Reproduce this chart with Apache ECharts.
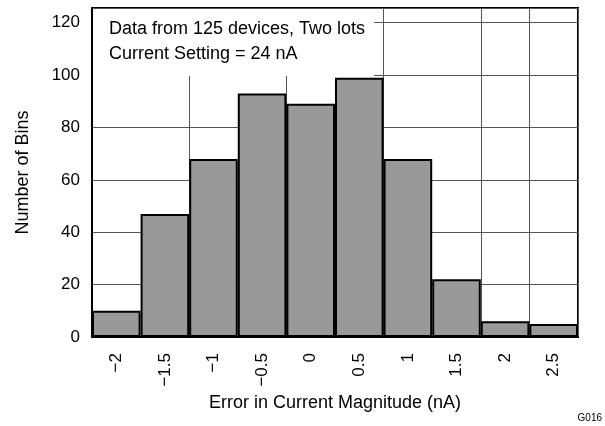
<!DOCTYPE html>
<html>
<head>
<meta charset="utf-8">
<script src="https://cdn.jsdelivr.net/npm/echarts@6/dist/echarts.min.js"></script>
<style>html,body{margin:0;padding:0;background:#fff}#c{width:605px;height:426px}</style>
</head>
<body>
<div id="c"></div>
<script>
const categories = ['\u22122', '\u22121.5', '\u22121', '\u22120.5', '0', '0.5', '1', '1.5', '2', '2.5'];
const counts = [10, 47, 68, 93, 89, 99, 68, 22, 6, 5];
const yTicks = [0, 20, 40, 60, 80, 100, 120];
const noteLines = ['Data from 125 devices, Two lots', 'Current Setting = 24 nA'];
const xTitle = 'Error in Current Magnitude (nA)';
const yTitle = 'Number of Bins';
const figId = 'G016';

const FONT = '"Liberation Sans", Arial, Helvetica, sans-serif';
const chart = echarts.init(document.getElementById('c'), null, {renderer: 'canvas'});
chart.setOption({
  animation: false,
  backgroundColor: '#fff',
  textStyle: {fontFamily: FONT},
  title: [
    {
      text: noteLines.join('\n'),
      left: 93, top: 9,
      padding: [8, 9, 10, 16],
      backgroundColor: '#fff',
      z: 10,
      textStyle: {fontFamily: FONT, fontSize: 18, fontWeight: 'normal', color: '#000', lineHeight: 24.5}
    },
    {
      text: figId,
      right: 3, bottom: 3, padding: 0,
      textStyle: {fontFamily: FONT, fontSize: 10, fontWeight: 'normal', color: '#000'}
    }
  ],
  grid: {left: 92, right: 27, top: 8, bottom: 89, show: true, borderColor: '#000', borderWidth: 2, containLabel: false},
  xAxis: {
    type: 'category',
    data: categories,
    boundaryGap: true,
    name: xTitle,
    nameLocation: 'middle',
    nameGap: 53,
    nameTextStyle: {fontFamily: FONT, fontSize: 18, color: '#000'},
    axisLine: {show: true, lineStyle: {color: '#000', width: 2}},
    axisTick: {show: false},
    axisLabel: {rotate: 90, margin: 16, fontFamily: FONT, fontSize: 17, color: '#000', interval: 0},
    splitLine: {show: true, interval: 1, lineStyle: {color: '#555', width: 1}}
  },
  yAxis: {
    type: 'value',
    min: 0, max: 125.6, interval: 20,
    name: yTitle,
    nameLocation: 'middle',
    nameRotate: 90,
    nameGap: 60,
    nameTextStyle: {fontFamily: FONT, fontSize: 18, color: '#000'},
    axisLine: {show: true, lineStyle: {color: '#000', width: 2}},
    axisTick: {show: false},
    axisLabel: {
      margin: 12, fontFamily: FONT, fontSize: 17, color: '#000', showMaxLabel: false,
      formatter: v => (yTicks.indexOf(v) >= 0 ? String(v) : '')
    },
    splitLine: {show: true, lineStyle: {color: '#555', width: 1}}
  },
  series: [{
    type: 'bar',
    data: counts,
    barCategoryGap: 0,
    barGap: 0,
    itemStyle: {color: '#999999', borderColor: '#000', borderWidth: 2},
    emphasis: {disabled: true}
  }]
});
</script>
</body>
</html>
